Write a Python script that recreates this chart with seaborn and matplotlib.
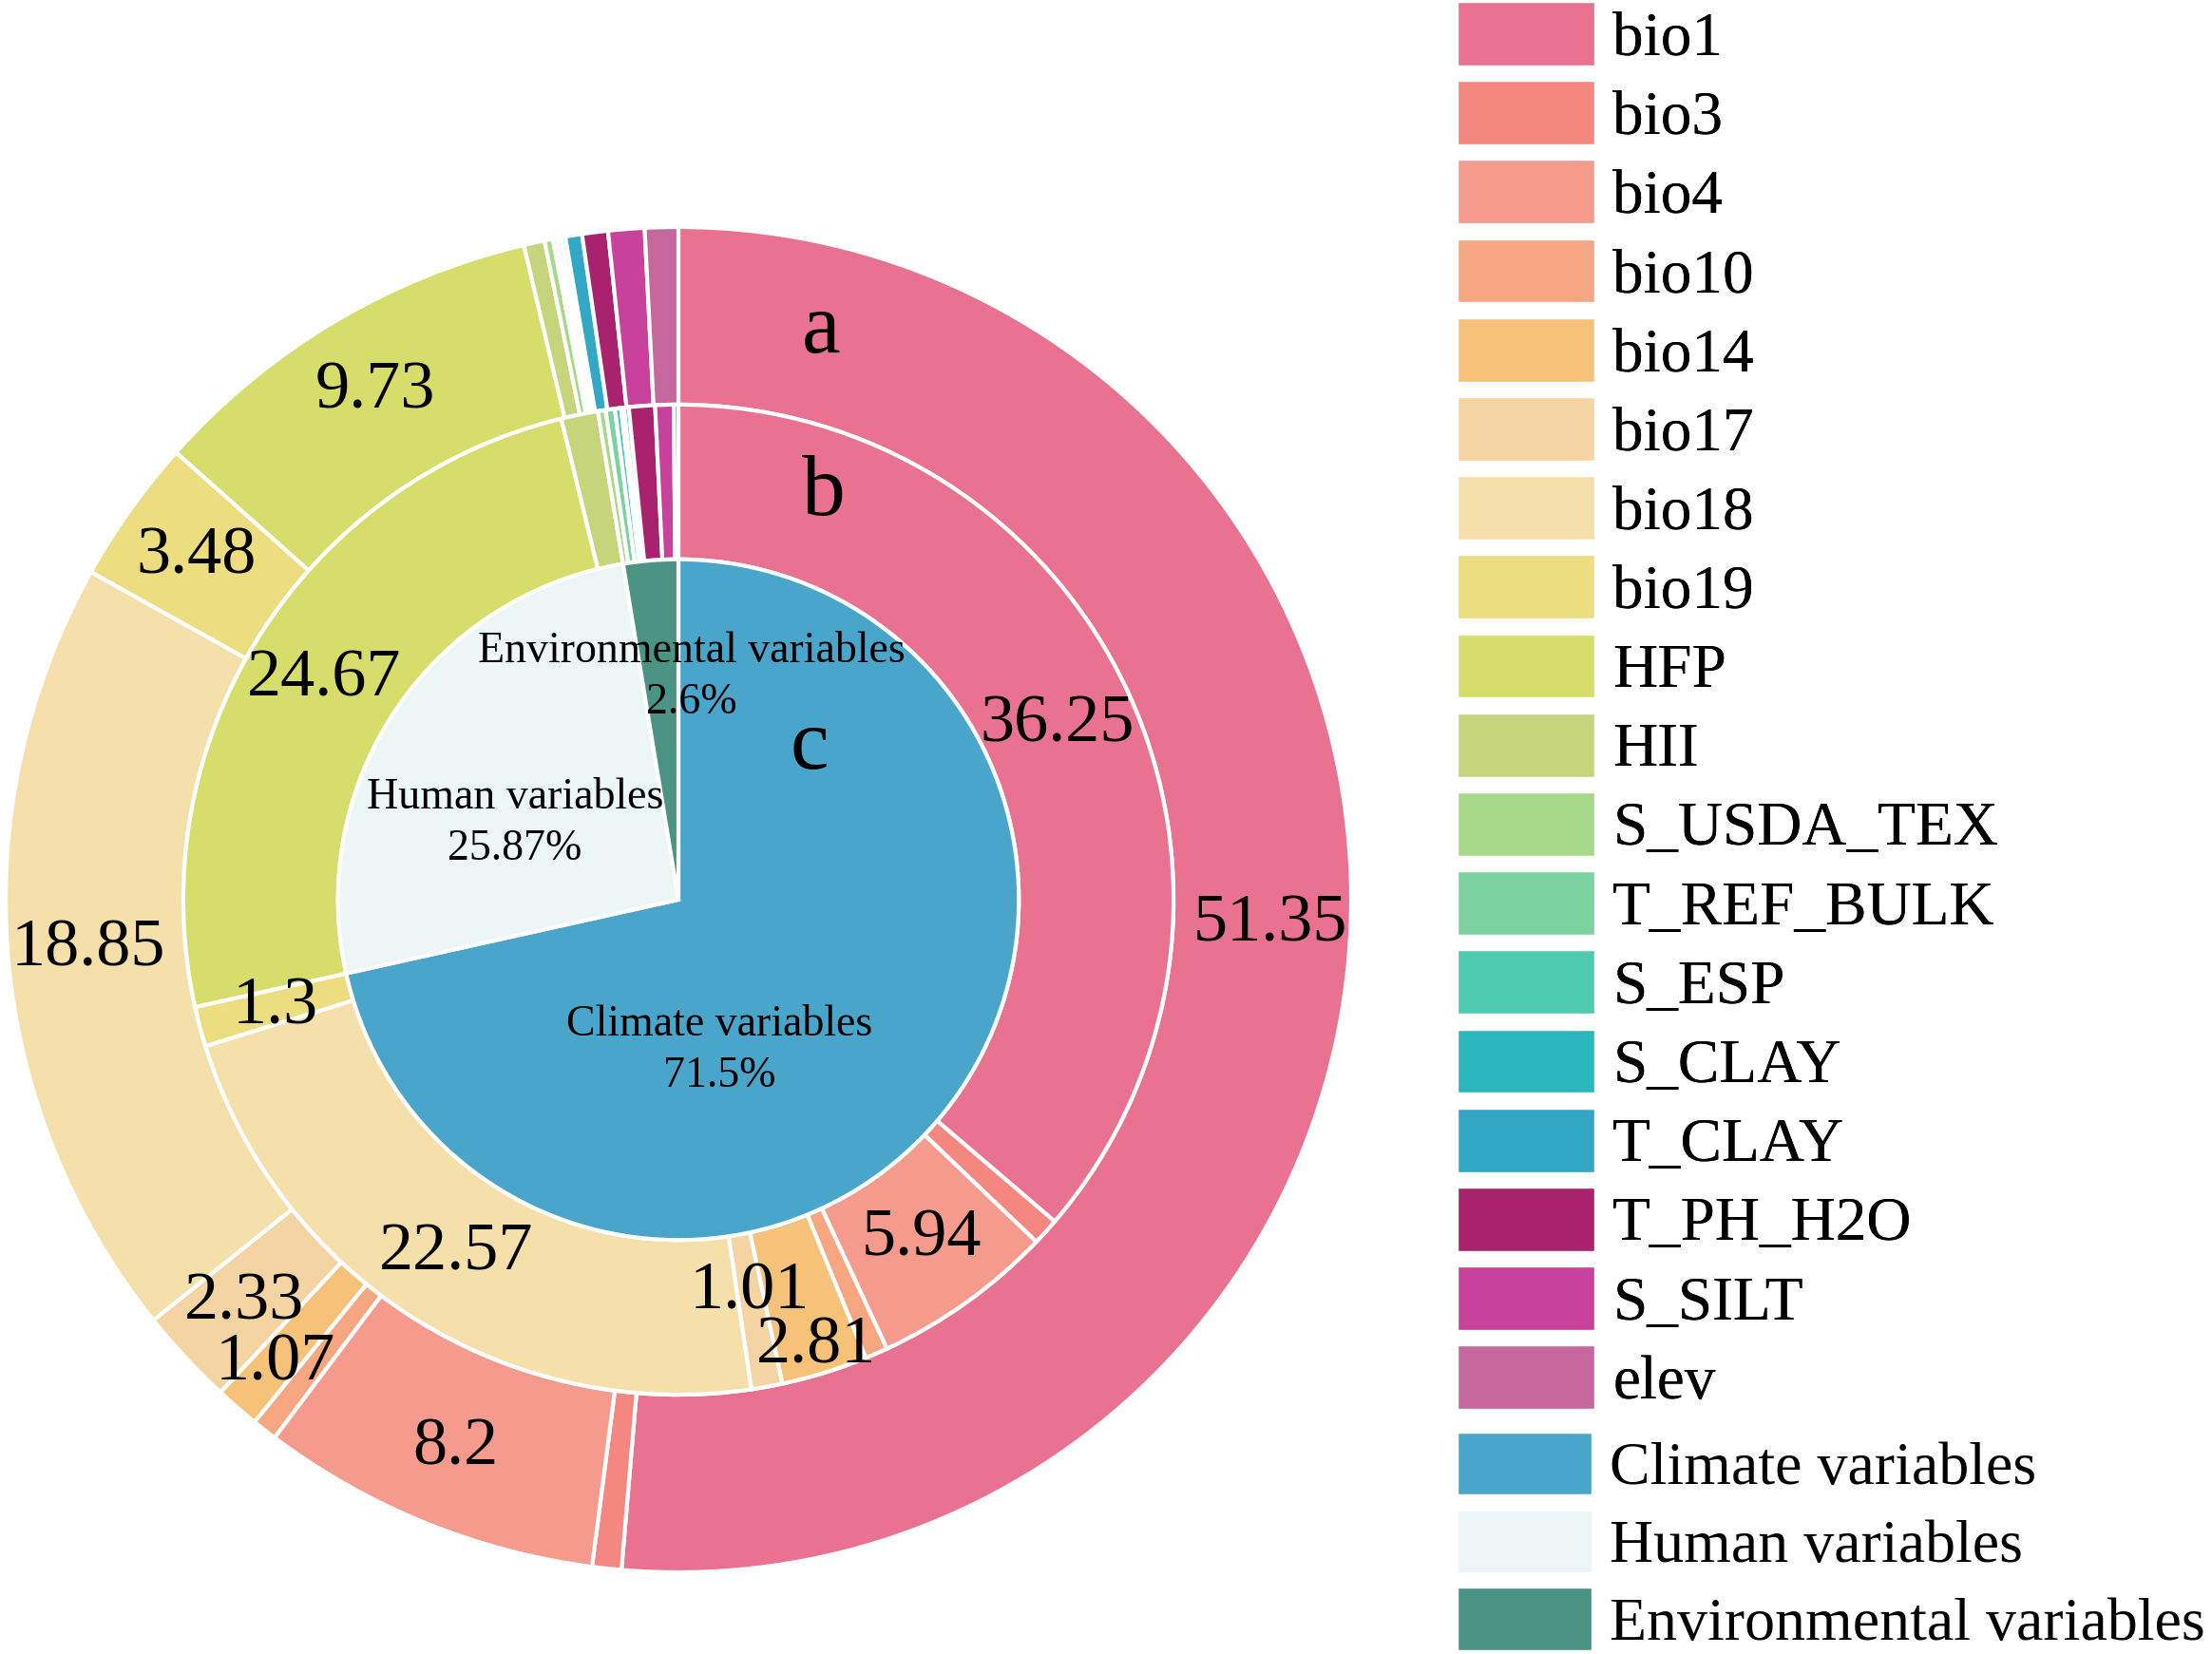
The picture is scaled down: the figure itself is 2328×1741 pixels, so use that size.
import numpy as np
import matplotlib.pyplot as plt
import seaborn as sns
from matplotlib.patches import Patch

# ---- data ----
variables = ['bio1', 'bio3', 'bio4', 'bio10', 'bio14', 'bio17', 'bio18', 'bio19',
             'HFP', 'HII', 'S_USDA_TEX', 'T_REF_BULK', 'S_ESP', 'S_CLAY',
             'T_CLAY', 'T_PH_H2O', 'S_SILT', 'elev']
# ring a (outer)
ring_a = [51.35, 0.70, 8.20, 0.60, 1.07, 2.33, 18.85, 3.48,
          9.73, 0.50, 0.20, 0.10, 0.10, 0.10, 0.40, 0.62, 0.87, 0.80]
# ring b (middle)
ring_b = [36.25, 0.88, 5.94, 0.74, 2.81, 1.01, 22.57, 1.30,
          24.67, 1.20, 0.25, 0.30, 0.20, 0.10, 0.15, 0.85, 0.60, 0.15]
# pie c (inner, groups of ring b)
groups = ['Climate variables', 'Human variables', 'Environmental variables']
group_pct = [71.5, 25.87, 2.6]

var_colors = ['#e8728f', '#f4877f', '#f49b8e', '#f6a680', '#f6c27a', '#f5d4a4',
              '#f5e0ac', '#ebdd80', '#d6dd6b', '#c6d47c', '#a8d98b', '#7dd3a0',
              '#4ecab0', '#2bb7bd', '#33a7c6', '#a8226d', '#c8419a', '#c6679e']
group_colors = ['#4aa5cb', '#ebf6f5', '#4b9383']

sns.set_theme(style='white')
plt.rcParams['font.family'] = ['Liberation Serif', 'DejaVu Serif']
plt.rcParams['text.color'] = 'black'

W, H = 2328, 1741
fig = plt.figure(figsize=(W / 100, H / 100), dpi=100)
cx, cy, R = 714, 947, 708
ax = fig.add_axes([(cx - R) / W, (H - cy - R) / H, 2 * R / W, 2 * R / H])

r_a, r_b, r_c = 1.0, 0.736, 0.506
edge = dict(edgecolor='white', linewidth=3)

wa, _ = ax.pie(ring_a, radius=r_a, colors=var_colors, startangle=90,
               counterclock=False, wedgeprops=dict(width=r_a - r_b, **edge))
wb, _ = ax.pie(ring_b, radius=r_b, colors=var_colors, startangle=90,
               counterclock=False, wedgeprops=dict(width=r_b - r_c, **edge))
wc, _ = ax.pie(group_pct, radius=r_c, colors=group_colors, startangle=90,
               counterclock=False, wedgeprops=edge)
ax.set_xlim(-1, 1)
ax.set_ylim(-1, 1)
ax.set_aspect('equal')
ax.axis('off')


def put_labels(wedges, values, r_default, r_override, hide=()):
    for w, v, name in zip(wedges, values, variables):
        if v < 1 or name in hide:
            continue
        th = np.deg2rad((w.theta1 + w.theta2) / 2)
        r = r_override.get(name, r_default)
        ax.text(r * np.cos(th), r * np.sin(th), f'{v:g}', ha='center',
                va='center', fontsize=52, color='black')


put_labels(wa, ring_a, 0.88, {'bio14': 0.913})
put_labels(wb, ring_b, 0.62, {'bio14': 0.695, 'bio17': 0.593}, hide={'HII'})

# inner pie labels
inner_pos = [(0.061, -0.224), (-0.243, 0.113), (0.019, 0.331)]
for (x, y), g, p in zip(inner_pos, groups, group_pct):
    ax.text(x, y, f'{g}\n{p:g}%', ha='center', va='center', fontsize=33,
            linespacing=1.35, color='black')

# ring letters
for (x, y), s in zip([(0.212, 0.845), (0.216, 0.604), (0.195, 0.226)], 'abc'):
    ax.text(x, y, s, ha='center', va='center', fontsize=66, color='black')

# legends
leg_kw = dict(loc='upper left', frameon=False, borderpad=0,
              borderaxespad=0, handlelength=2.2, handleheight=1.2,
              handletextpad=0.3, labelspacing=0.21, labelcolor='black')
h1 = [Patch(facecolor=c, label=n) for c, n in zip(var_colors, variables)]
leg1 = fig.legend(handles=h1, bbox_to_anchor=(1534 / W, 1 - 2 / H),
                  fontsize=47, **leg_kw)
h2 = [Patch(facecolor=c, label=n) for c, n in zip(group_colors, groups)]
fig.legend(handles=h2, bbox_to_anchor=(1534 / W, 1 - 1508 / H),
           fontsize=46, **leg_kw)
fig.add_artist(leg1)

fig.savefig('out.png', dpi=100)
